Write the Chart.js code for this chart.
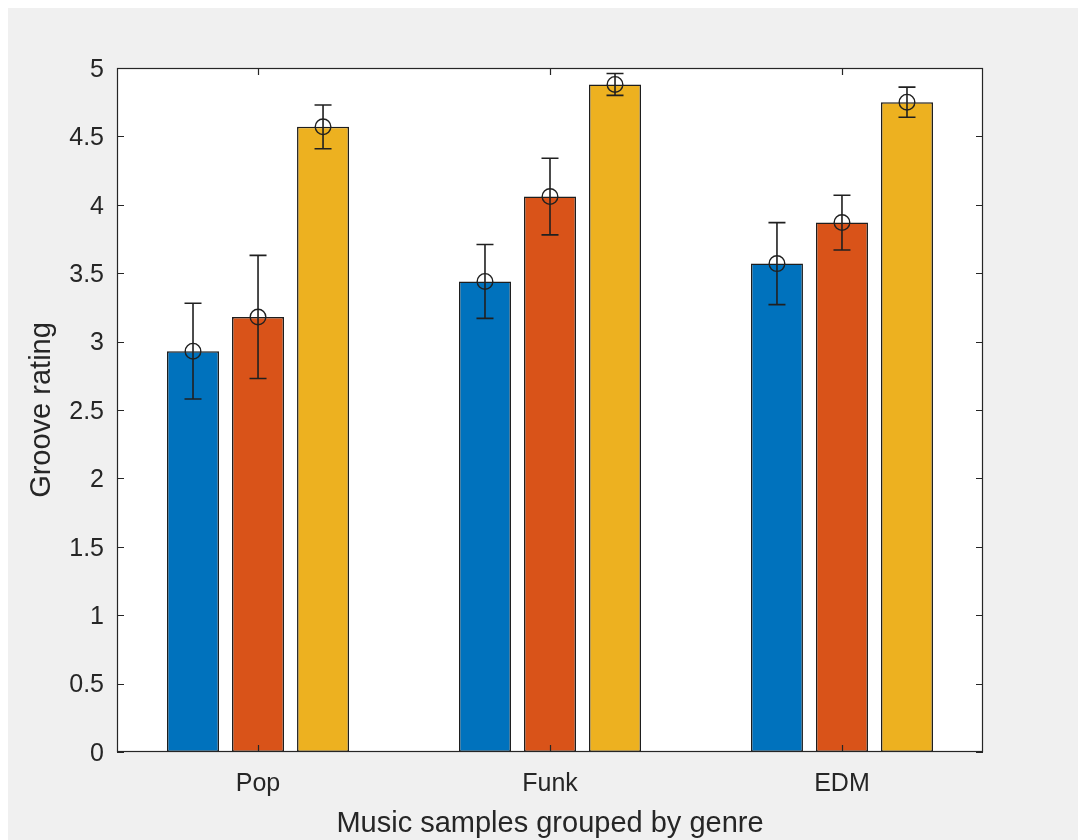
<!DOCTYPE html>
<html>
<head>
<meta charset="utf-8">
<script src="https://cdn.jsdelivr.net/npm/chart.js@4.4.1/dist/chart.umd.min.js"></script>
<style>
  html, body { margin: 0; padding: 0; background: #fff; overflow: hidden; }
  #wrap { position: absolute; left: 8px; top: 8px; width: 1070px; height: 832px; }
</style>
</head>
<body>
<div id="wrap"><canvas id="grooveChart"></canvas></div>
<script>
// Groove ratings per genre, three conditions (bar = mean, whisker = error)
const categories = ['Pop', 'Funk', 'EDM'];

const meanBlue   = [2.93, 3.44, 3.57];
const meanOrange = [3.18, 4.06, 3.87];
const meanYellow = [4.57, 4.88, 4.75];

const errBlue   = [0.35, 0.27, 0.30];
const errOrange = [0.45, 0.28, 0.20];
const errYellow = [0.16, 0.08, 0.11];

const yMin = 0, yMax = 5, yStep = 0.5;
const xMin = 0.517, xMax = 3.483; // xlim, categories sit at 1, 2, 3

const INK = '#262626';
const FONT = '"Liberation Sans", Arial, Helvetica, sans-serif';

function toPoints(values) {
    return values.map((v, i) => ({ x: i + 1, y: v }));
}

function barSet(values, errors, color) {
    return {
        data: toPoints(values),
        errors: errors,
        backgroundColor: color,
        borderColor: '#1e1e1e',
        borderWidth: 1.5,
        borderSkipped: false,
        categoryPercentage: 0.668,
        barPercentage: 0.8
    };
}

// ─────────────────────────────────────────────
// MATLAB look: grey figure, white axes, boxed frame, inward ticks,
// error bars with open circle markers
// ─────────────────────────────────────────────
const matlabAxes = {
    id: 'matlabAxes',
    beforeDraw(chart) {
        const { ctx, chartArea: a } = chart;
        ctx.save();
        ctx.fillStyle = '#f0f0f0';
        ctx.fillRect(0, 0, chart.width, chart.height);
        ctx.fillStyle = '#ffffff';
        ctx.fillRect(a.left, a.top, a.right - a.left, a.bottom - a.top);
        ctx.restore();
    },
    afterDatasetsDraw(chart) {
        const { ctx, chartArea: a } = chart;
        const yScale = chart.scales.y;
        const xScale = chart.scales.x;

        ctx.save();
        // error bars + markers
        chart.data.datasets.forEach((ds, di) => {
            const meta = chart.getDatasetMeta(di);
            meta.data.forEach((bar, i) => {
                const v = ds.data[i].y;
                const e = ds.errors[i];
                const x = bar.x;
                const yHi = yScale.getPixelForValue(v + e);
                const yLo = yScale.getPixelForValue(v - e);
                const yc = yScale.getPixelForValue(v);
                const cap = 8.5;

                ctx.strokeStyle = '#202020';
                ctx.lineWidth = 1.6;
                ctx.beginPath();
                ctx.moveTo(x, yHi); ctx.lineTo(x, yLo);
                ctx.moveTo(x - cap, yHi); ctx.lineTo(x + cap, yHi);
                ctx.moveTo(x - cap, yLo); ctx.lineTo(x + cap, yLo);
                ctx.stroke();

                ctx.lineWidth = 1.4;
                ctx.beginPath();
                ctx.arc(x, yc, 7.8, 0, Math.PI * 2);
                ctx.stroke();
            });
        });

        // frame
        ctx.strokeStyle = INK;
        ctx.lineWidth = 1.2;
        ctx.strokeRect(a.left + 0.5, a.top + 0.5, a.right - a.left - 1, a.bottom - a.top - 1);

        // inward ticks on all four sides
        const tl = 7;
        ctx.beginPath();
        yScale.ticks.forEach(t => {
            const py = Math.round(yScale.getPixelForValue(t.value)) + 0.5;
            ctx.moveTo(a.left, py); ctx.lineTo(a.left + tl, py);
            ctx.moveTo(a.right, py); ctx.lineTo(a.right - tl, py);
        });
        xScale.ticks.forEach(t => {
            const px = Math.round(xScale.getPixelForValue(t.value)) + 0.5;
            ctx.moveTo(px, a.bottom); ctx.lineTo(px, a.bottom - tl);
            ctx.moveTo(px, a.top); ctx.lineTo(px, a.top + tl);
        });
        ctx.stroke();
        ctx.restore();
    }
};

const chart = new Chart(document.getElementById('grooveChart'), {
    type: 'bar',
    data: {
        datasets: [
            barSet(meanBlue, errBlue, '#0072BD'),
            barSet(meanOrange, errOrange, '#D95319'),
            barSet(meanYellow, errYellow, '#EDB120')
        ]
    },
    options: {
        responsive: true,
        maintainAspectRatio: false,
        animation: false,
        layout: { padding: { left: 0, top: 60, right: 95, bottom: 0 } },
        plugins: {
            legend: { display: false },
            tooltip: { enabled: false }
        },
        scales: {
            x: {
                type: 'linear',
                offset: false,
                min: xMin,
                max: xMax,
                afterBuildTicks: s => { s.ticks = categories.map((c, i) => ({ value: i + 1 })); },
                afterFit: s => { s.height = 88; },
                grid: { display: false, drawTicks: false, offset: false },
                border: { display: false },
                ticks: {
                    callback: v => categories[v - 1] ?? '',
                    autoSkip: false,
                    maxRotation: 0,
                    padding: 17,
                    color: INK,
                    font: { family: FONT, size: 25 }
                },
                title: {
                    display: true,
                    text: 'Music samples grouped by genre',
                    color: INK,
                    font: { family: FONT, size: 29 },
                    padding: { top: 0, bottom: -1 }
                }
            },
            y: {
                min: yMin,
                max: yMax,
                afterFit: s => { s.width = 109; },
                grid: { display: false, drawTicks: false },
                border: { display: false },
                ticks: {
                    stepSize: yStep,
                    callback: v => String(+v.toFixed(2)),
                    padding: 13,
                    labelOffset: 2,
                    color: INK,
                    font: { family: FONT, size: 25 }
                },
                title: {
                    display: true,
                    text: 'Groove rating',
                    color: INK,
                    font: { family: FONT, size: 29 },
                    padding: { top: 17, bottom: 0 }
                }
            }
        }
    },
    plugins: [matlabAxes]
});
</script>
</body>
</html>
